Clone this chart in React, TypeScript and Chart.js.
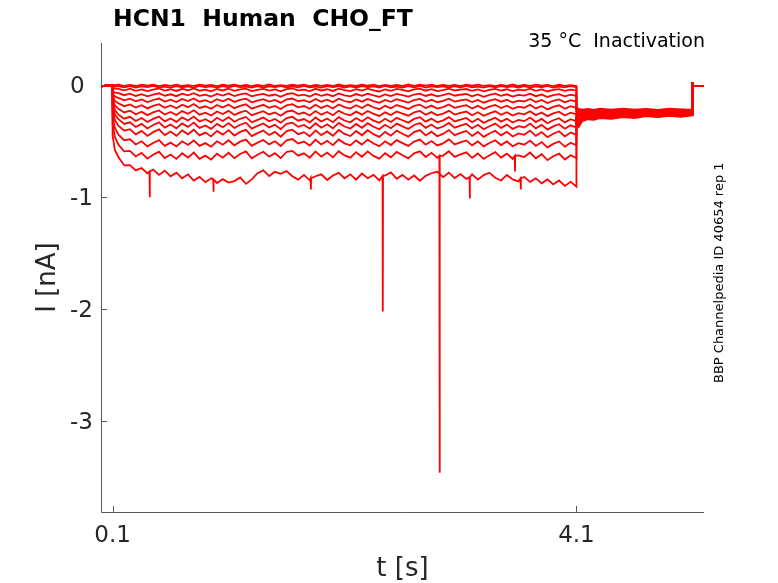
import React, { useEffect, useRef } from 'react';
import { Chart, registerables } from 'chart.js';

Chart.register(...registerables);

// sample times (s)
const PRE_T = [0, 0.02, 0.05, 0.08, 0.1];
const PRE_I = [-0.01, -0.006, 0.002, -0.003, 0];

const STEP_T = [
  0.1, 0.12,
  0.15, 0.2, 0.25, 0.3, 0.35, 0.4, 0.45, 0.5, 0.55, 0.6,
  0.65, 0.7, 0.75, 0.8, 0.85, 0.9, 0.95, 1.0, 1.05, 1.1,
  1.15, 1.2, 1.25, 1.3, 1.35, 1.4, 1.45, 1.5, 1.55, 1.6,
  1.65, 1.7, 1.75, 1.8, 1.85, 1.9, 1.95, 2.0, 2.05, 2.1,
  2.15, 2.2, 2.25, 2.3, 2.35, 2.4, 2.45, 2.5, 2.55, 2.6,
  2.65, 2.7, 2.75, 2.8, 2.85, 2.9, 2.95, 3.0, 3.05, 3.1,
  3.15, 3.2, 3.25, 3.3, 3.35, 3.4, 3.45, 3.5, 3.55, 3.6,
  3.65, 3.7, 3.75, 3.8, 3.85, 3.9, 3.95, 4.0, 4.05, 4.1,
];

const TAIL_T = [4.1, 4.12, 4.15, 4.2, 4.25, 4.3, 4.4, 4.5, 4.6, 4.7, 4.8, 4.9, 5.0, 5.1];

const END_T = [5.1, 5.101, 5.105, 5.2];
const END_I = [0.03, -0.004, -0.007, -0.005];

// current during the conditioning step (nA), one row per sweep
const STEP_I = [
  [-0.005, 0.002,
    0.006, -0.005, 0.004, -0.006, 0.007, -0.003, 0.005, -0.007, 0.003, -0.004,
    0.006, -0.006, 0.002, -0.005, 0.007, -0.003, 0.004, -0.007, 0.005, -0.002,
    0.006, -0.005, 0.003, -0.007, 0.004, -0.004, 0.007, -0.006, 0.002, -0.005,
    0.005, -0.003, 0.006, -0.007, 0.004, -0.005, 0.003, -0.006, 0.007, -0.004,
    0.002, -0.006, 0.005, -0.003, 0.006, -0.007, 0.004, -0.005, 0.003, -0.006,
    0.007, -0.004, 0.005, -0.002, 0.006, -0.006, 0.003, -0.005, 0.004, -0.007,
    0.005, -0.003, 0.006, -0.005, 0.002, -0.007, 0.004, -0.004, 0.007, -0.006,
    0.003, -0.005, 0.006, -0.003, 0.004, -0.007, 0.005, -0.004, 0.002, -0.006],
  [-0.008, -0.012,
    -0.006, -0.018, -0.008, -0.020, -0.010, -0.016, -0.005, -0.019, -0.011, -0.021,
    -0.007, -0.017, -0.009, -0.020, -0.006, -0.015, -0.010, -0.021, -0.008, -0.018,
    -0.005, -0.016, -0.011, -0.020, -0.007, -0.019, -0.009, -0.015, -0.006, -0.020,
    -0.010, -0.018, -0.005, -0.017, -0.011, -0.021, -0.008, -0.016, -0.006, -0.019,
    -0.009, -0.020, -0.007, -0.015, -0.010, -0.019, -0.005, -0.017, -0.011, -0.021,
    -0.008, -0.018, -0.006, -0.020, -0.009, -0.016, -0.010, -0.019, -0.007, -0.021,
    -0.005, -0.017, -0.011, -0.020, -0.008, -0.018, -0.006, -0.016, -0.010, -0.019,
    -0.007, -0.021, -0.009, -0.017, -0.005, -0.020, -0.011, -0.018, -0.008, -0.016],
  [-0.02, -0.03,
    -0.032, -0.045, -0.030, -0.049, -0.036, -0.052, -0.038, -0.028, -0.047, -0.035,
    -0.050, -0.031, -0.044, -0.027, -0.048, -0.039, -0.053, -0.033, -0.046, -0.030,
    -0.049, -0.036, -0.029, -0.051, -0.040, -0.032, -0.047, -0.037, -0.054, -0.034,
    -0.028, -0.045, -0.038, -0.052, -0.031, -0.046, -0.035, -0.050, -0.029, -0.043,
    -0.051, -0.034, -0.047, -0.030, -0.044, -0.055, -0.036, -0.049, -0.032, -0.041,
    -0.053, -0.037, -0.030, -0.048, -0.035, -0.051, -0.042, -0.029, -0.046, -0.038,
    -0.033, -0.050, -0.036, -0.054, -0.040, -0.031, -0.047, -0.035, -0.052, -0.039,
    -0.045, -0.030, -0.049, -0.037, -0.055, -0.041, -0.034, -0.050, -0.038, -0.046],
  [-0.05, -0.065,
    -0.070, -0.088, -0.074, -0.095, -0.079, -0.099, -0.083, -0.071, -0.093, -0.080,
    -0.097, -0.075, -0.090, -0.070, -0.094, -0.084, -0.101, -0.077, -0.092, -0.073,
    -0.096, -0.081, -0.072, -0.099, -0.086, -0.076, -0.093, -0.082, -0.102, -0.078,
    -0.071, -0.091, -0.083, -0.100, -0.075, -0.094, -0.080, -0.098, -0.073, -0.089,
    -0.099, -0.078, -0.094, -0.074, -0.090, -0.103, -0.081, -0.096, -0.076, -0.087,
    -0.101, -0.082, -0.074, -0.095, -0.080, -0.099, -0.088, -0.073, -0.093, -0.084,
    -0.077, -0.098, -0.081, -0.102, -0.086, -0.075, -0.094, -0.080, -0.100, -0.085,
    -0.092, -0.074, -0.097, -0.082, -0.104, -0.087, -0.078, -0.099, -0.083, -0.093],
  [-0.07, -0.10,
    -0.112, -0.134, -0.119, -0.143, -0.126, -0.150, -0.131, -0.118, -0.145, -0.128,
    -0.149, -0.122, -0.140, -0.117, -0.146, -0.133, -0.153, -0.124, -0.143, -0.120,
    -0.148, -0.130, -0.119, -0.151, -0.136, -0.123, -0.145, -0.131, -0.155, -0.126,
    -0.118, -0.142, -0.132, -0.152, -0.122, -0.146, -0.128, -0.150, -0.120, -0.140,
    -0.151, -0.126, -0.146, -0.121, -0.141, -0.156, -0.130, -0.148, -0.124, -0.138,
    -0.154, -0.131, -0.121, -0.147, -0.129, -0.151, -0.139, -0.120, -0.145, -0.134,
    -0.125, -0.150, -0.130, -0.155, -0.137, -0.123, -0.146, -0.129, -0.153, -0.136,
    -0.144, -0.122, -0.149, -0.131, -0.158, -0.138, -0.126, -0.152, -0.133, -0.145],
  [-0.09, -0.14,
    -0.160, -0.186, -0.170, -0.199, -0.178, -0.206, -0.184, -0.168, -0.201, -0.180,
    -0.205, -0.173, -0.195, -0.167, -0.202, -0.187, -0.210, -0.176, -0.198, -0.171,
    -0.204, -0.183, -0.169, -0.208, -0.190, -0.174, -0.201, -0.184, -0.212, -0.178,
    -0.168, -0.197, -0.185, -0.209, -0.173, -0.202, -0.180, -0.207, -0.171, -0.195,
    -0.208, -0.178, -0.202, -0.172, -0.196, -0.213, -0.183, -0.205, -0.176, -0.193,
    -0.211, -0.184, -0.172, -0.203, -0.181, -0.208, -0.194, -0.171, -0.201, -0.188,
    -0.177, -0.207, -0.183, -0.212, -0.191, -0.175, -0.203, -0.182, -0.210, -0.190,
    -0.200, -0.174, -0.206, -0.184, -0.215, -0.192, -0.178, -0.209, -0.186, -0.201],
  [-0.12, -0.18,
    -0.210, -0.242, -0.226, -0.258, -0.235, -0.266, -0.242, -0.224, -0.261, -0.238,
    -0.265, -0.230, -0.254, -0.223, -0.262, -0.245, -0.270, -0.233, -0.257, -0.228,
    -0.264, -0.241, -0.226, -0.268, -0.249, -0.231, -0.260, -0.242, -0.272, -0.235,
    -0.225, -0.256, -0.243, -0.269, -0.230, -0.262, -0.238, -0.267, -0.228, -0.254,
    -0.268, -0.235, -0.262, -0.229, -0.255, -0.273, -0.241, -0.265, -0.233, -0.252,
    -0.271, -0.242, -0.229, -0.263, -0.239, -0.268, -0.253, -0.228, -0.261, -0.247,
    -0.234, -0.267, -0.241, -0.272, -0.250, -0.232, -0.263, -0.240, -0.270, -0.249,
    -0.259, -0.231, -0.266, -0.242, -0.275, -0.251, -0.236, -0.269, -0.244, -0.260],
  [-0.15, -0.22,
    -0.262, -0.298, -0.281, -0.318, -0.292, -0.328, -0.300, -0.279, -0.322, -0.296,
    -0.326, -0.286, -0.314, -0.279, -0.323, -0.303, -0.331, -0.290, -0.318, -0.284,
    -0.325, -0.299, -0.282, -0.330, -0.308, -0.288, -0.321, -0.300, -0.334, -0.292,
    -0.281, -0.316, -0.301, -0.331, -0.287, -0.323, -0.296, -0.329, -0.284, -0.314,
    -0.330, -0.292, -0.323, -0.285, -0.315, -0.335, -0.299, -0.327, -0.290, -0.312,
    -0.333, -0.300, -0.285, -0.324, -0.297, -0.330, -0.313, -0.284, -0.322, -0.306,
    -0.291, -0.329, -0.299, -0.335, -0.310, -0.289, -0.324, -0.298, -0.332, -0.309,
    -0.320, -0.288, -0.328, -0.300, -0.338, -0.312, -0.294, -0.331, -0.303, -0.321],
  [-0.18, -0.26,
    -0.302, -0.345, -0.330, -0.372, -0.344, -0.385, -0.354, -0.331, -0.378, -0.350,
    -0.384, -0.340, -0.371, -0.333, -0.380, -0.358, -0.389, -0.344, -0.374, -0.337,
    -0.381, -0.352, -0.334, -0.386, -0.362, -0.340, -0.376, -0.352, -0.391, -0.344,
    -0.333, -0.370, -0.354, -0.387, -0.339, -0.378, -0.348, -0.384, -0.336, -0.368,
    -0.386, -0.345, -0.379, -0.338, -0.370, -0.392, -0.352, -0.383, -0.342, -0.366,
    -0.390, -0.354, -0.337, -0.380, -0.350, -0.386, -0.368, -0.336, -0.378, -0.360,
    -0.344, -0.385, -0.352, -0.392, -0.365, -0.342, -0.380, -0.351, -0.389, -0.364,
    -0.376, -0.341, -0.384, -0.353, -0.395, -0.367, -0.347, -0.388, -0.357, -0.377],
  [-0.22, -0.31,
    -0.360, -0.405, -0.392, -0.438, -0.407, -0.452, -0.418, -0.393, -0.444, -0.413,
    -0.451, -0.403, -0.437, -0.396, -0.447, -0.422, -0.456, -0.407, -0.440, -0.400,
    -0.448, -0.416, -0.397, -0.454, -0.427, -0.403, -0.443, -0.416, -0.459, -0.408,
    -0.396, -0.436, -0.418, -0.455, -0.402, -0.445, -0.412, -0.451, -0.399, -0.434,
    -0.453, -0.408, -0.446, -0.401, -0.436, -0.460, -0.416, -0.450, -0.405, -0.432,
    -0.458, -0.418, -0.400, -0.447, -0.414, -0.454, -0.434, -0.399, -0.445, -0.425,
    -0.407, -0.452, -0.416, -0.460, -0.430, -0.405, -0.447, -0.415, -0.457, -0.429,
    -0.442, -0.404, -0.451, -0.417, -0.463, -0.432, -0.410, -0.456, -0.421, -0.443],
  [-0.28, -0.38,
    -0.440, -0.490, -0.482, -0.528, -0.500, -0.545, -0.515, -0.490, -0.540, -0.512,
    -0.546, -0.500, -0.532, -0.492, -0.541, -0.516, -0.548, -0.500, -0.530, -0.490,
    -0.536, -0.503, -0.484, -0.540, -0.512, -0.488, -0.527, -0.500, -0.542, -0.491,
    -0.480, -0.520, -0.502, -0.538, -0.486, -0.528, -0.496, -0.534, -0.483, -0.518,
    -0.536, -0.492, -0.529, -0.485, -0.520, -0.543, -0.500, -0.533, -0.489, -0.516,
    -0.541, -0.502, -0.484, -0.530, -0.498, -0.537, -0.518, -0.483, -0.528, -0.509,
    -0.492, -0.536, -0.501, -0.545, -0.515, -0.490, -0.533, -0.501, -0.544, -0.516,
    -0.530, -0.493, -0.541, -0.507, -0.554, -0.523, -0.501, -0.548, -0.513, -0.535],
  [-0.35, -0.46,
    -0.530, -0.590, -0.585, -0.635, -0.603, -0.655, -0.620, -0.592, -0.650, -0.618,
    -0.657, -0.606, -0.645, -0.600, -0.656, -0.628, -0.664, -0.610, -0.646, -0.602,
    -0.650, -0.613, -0.590, -0.652, -0.620, -0.593, -0.637, -0.606, -0.650, -0.595,
    -0.585, -0.628, -0.607, -0.646, -0.590, -0.636, -0.600, -0.643, -0.588, -0.626,
    -0.646, -0.597, -0.638, -0.590, -0.630, -0.655, -0.606, -0.643, -0.595, -0.625,
    -0.652, -0.608, -0.590, -0.640, -0.603, -0.648, -0.627, -0.589, -0.639, -0.617,
    -0.598, -0.648, -0.608, -0.657, -0.625, -0.597, -0.645, -0.610, -0.656, -0.625,
    -0.640, -0.600, -0.652, -0.615, -0.668, -0.633, -0.610, -0.662, -0.624, -0.650],
  [-0.45, -0.58,
    -0.640, -0.715, -0.712, -0.760, -0.738, -0.785, -0.752, -0.800, -0.762, -0.812,
    -0.780, -0.830, -0.795, -0.850, -0.818, -0.865, -0.830, -0.872, -0.838, -0.868,
    -0.855, -0.822, -0.880, -0.840, -0.785, -0.760, -0.810, -0.772, -0.790, -0.765,
    -0.812, -0.842, -0.800, -0.848, -0.812, -0.795, -0.845, -0.805, -0.782, -0.830,
    -0.795, -0.842, -0.788, -0.830, -0.800, -0.848, -0.805, -0.778, -0.835, -0.800,
    -0.842, -0.805, -0.852, -0.808, -0.785, -0.772, -0.820, -0.780, -0.828, -0.792,
    -0.835, -0.795, -0.842, -0.802, -0.780, -0.825, -0.850, -0.800, -0.840, -0.858,
    -0.818, -0.862, -0.830, -0.875, -0.840, -0.885, -0.850, -0.898, -0.862, -0.905],
];

// tail current after the step (nA)
const TAIL_I = [
  [-0.20, -0.21, -0.218, -0.210, -0.219, -0.209, -0.218, -0.208, -0.217, -0.210, -0.219, -0.209, -0.216, -0.218],
  [-0.21, -0.22, -0.226, -0.217, -0.225, -0.215, -0.224, -0.216, -0.226, -0.215, -0.223, -0.225, -0.216, -0.224],
  [-0.22, -0.23, -0.234, -0.223, -0.232, -0.222, -0.231, -0.221, -0.230, -0.232, -0.220, -0.229, -0.231, -0.221],
  [-0.23, -0.24, -0.242, -0.230, -0.239, -0.228, -0.238, -0.227, -0.237, -0.226, -0.236, -0.228, -0.232, -0.229],
  [-0.24, -0.25, -0.250, -0.238, -0.247, -0.236, -0.245, -0.234, -0.243, -0.233, -0.242, -0.232, -0.241, -0.233],
  [-0.25, -0.26, -0.258, -0.246, -0.255, -0.243, -0.252, -0.241, -0.250, -0.239, -0.248, -0.238, -0.247, -0.237],
  [-0.26, -0.27, -0.266, -0.254, -0.262, -0.250, -0.259, -0.247, -0.256, -0.245, -0.254, -0.243, -0.252, -0.242],
  [-0.27, -0.28, -0.274, -0.262, -0.270, -0.257, -0.265, -0.253, -0.262, -0.250, -0.259, -0.248, -0.257, -0.247],
  [-0.28, -0.30, -0.282, -0.270, -0.277, -0.264, -0.272, -0.259, -0.268, -0.255, -0.264, -0.253, -0.262, -0.252],
  [-0.29, -0.31, -0.291, -0.278, -0.285, -0.271, -0.279, -0.265, -0.274, -0.260, -0.269, -0.258, -0.267, -0.256],
  [-0.30, -0.33, -0.300, -0.287, -0.293, -0.278, -0.286, -0.271, -0.280, -0.265, -0.274, -0.263, -0.271, -0.260],
  [-0.31, -0.35, -0.309, -0.295, -0.300, -0.285, -0.292, -0.277, -0.286, -0.270, -0.279, -0.267, -0.276, -0.264],
  [-0.32, -0.37, -0.319, -0.303, -0.308, -0.292, -0.299, -0.283, -0.292, -0.275, -0.284, -0.272, -0.281, -0.269],
];

// brief artefacts: [sweep, t, baseline, peak]
const SPIKES: [number, number, number, number][] = [
  [12, 0.42, -0.77, -1.0],
  [12, 0.97, -0.84, -0.95],
  [12, 1.81, -0.83, -0.93],
  [12, 2.43, -0.81, -2.02],
  [12, 3.18, -0.82, -1.01],
  [12, 3.62, -0.83, -0.93],
  [11, 2.92, -0.63, -3.46],
  [11, 3.57, -0.63, -0.77],
];

const X_TICKS = [0.1, 4.1];
const Y_TICKS = [0, -1, -2, -3];

const FONT = '"DejaVu Sans", sans-serif';
const AXIS_COLOR = '#5a5a5a';
const TEXT_COLOR = '#262626';

const decorations = {
  id: 'matlabAxes',
  beforeDatasetsDraw(chart: any) {
    const { ctx, chartArea: a, scales } = chart;
    ctx.save();
    ctx.strokeStyle = AXIS_COLOR;
    ctx.lineWidth = 1;
    ctx.beginPath();
    ctx.moveTo(a.left + 0.5, a.top);
    ctx.lineTo(a.left + 0.5, a.bottom + 0.5);
    ctx.lineTo(a.right, a.bottom + 0.5);
    for (const v of Y_TICKS) {
      const y = Math.round(scales.y.getPixelForValue(v)) + 0.5;
      ctx.moveTo(a.left, y);
      ctx.lineTo(a.left + 6, y);
    }
    for (const v of X_TICKS) {
      const x = Math.round(scales.x.getPixelForValue(v)) + 0.5;
      ctx.moveTo(x, a.bottom);
      ctx.lineTo(x, a.bottom - 6);
    }
    ctx.stroke();
    ctx.restore();
  },
  afterDraw(chart: any) {
    const { ctx, chartArea: a, scales } = chart;
    ctx.save();
    ctx.fillStyle = TEXT_COLOR;
    ctx.font = `23px ${FONT}`;
    ctx.textAlign = 'left';
    ctx.textBaseline = 'alphabetic';
    for (const v of Y_TICKS) {
      const y = scales.y.getPixelForValue(v);
      ctx.fillText(String(v), 70, y + 8);
    }
    ctx.textAlign = 'center';
    for (const v of X_TICKS) {
      ctx.fillText(String(v), scales.x.getPixelForValue(v), 542);
    }

    ctx.font = `26px ${FONT}`;
    ctx.fillText('t [s]', (a.left + a.right) / 2, 576);
    ctx.save();
    ctx.translate(55, (a.top + a.bottom) / 2);
    ctx.rotate(-Math.PI / 2);
    ctx.fillText('I [nA]', 0, 0);
    ctx.restore();

    ctx.fillStyle = '#000';
    ctx.font = `bold 23.5px ${FONT}`;
    ctx.textAlign = 'left';
    ctx.fillText('HCN1  Human  CHO_FT', 113, 26);

    ctx.font = `19px ${FONT}`;
    ctx.textAlign = 'right';
    ctx.fillText('35 °C  Inactivation', 705, 47);

    ctx.font = `13px ${FONT}`;
    ctx.textAlign = 'left';
    ctx.translate(723, 383);
    ctx.rotate(-Math.PI / 2);
    ctx.fillText('BBP Channelpedia ID 40654 rep 1', 0, 0);
    ctx.restore();
  },
};

function buildSweep(k: number) {
  const pts: { x: number; y: number }[] = [];
  PRE_T.forEach((t, i) => pts.push({ x: t, y: PRE_I[i] }));
  STEP_T.forEach((t, i) => pts.push({ x: t, y: STEP_I[k][i] }));
  TAIL_T.forEach((t, i) => pts.push({ x: t, y: TAIL_I[k][i] }));
  END_T.forEach((t, i) => pts.push({ x: t, y: END_I[i] }));
  SPIKES.filter((s) => s[0] === k).forEach(([, t, base, peak]) => {
    pts.push({ x: t - 0.002, y: base }, { x: t, y: peak }, { x: t + 0.002, y: base });
  });
  pts.sort((p, q) => p.x - q.x);
  return pts;
}

export default function App() {
  const canvasRef = useRef<HTMLCanvasElement>(null);

  useEffect(() => {
    if (!canvasRef.current) return;
    const chart = new Chart(canvasRef.current, {
      type: 'line',
      data: {
        datasets: STEP_I.map((_, k) => ({
          data: buildSweep(k),
          borderColor: '#ff0000',
          borderWidth: 1.8,
          pointRadius: 0,
          tension: 0,
          fill: false,
        })),
      },
      options: {
        responsive: false,
        animation: false,
        events: [],
        layout: { padding: { left: 0, top: 43, right: 74, bottom: 0 } },
        plugins: { legend: { display: false }, tooltip: { enabled: false }, title: { display: false } },
        scales: {
          x: {
            type: 'linear',
            min: 0,
            max: 5.2,
            grid: { display: false },
            border: { display: false },
            ticks: { display: false },
            afterFit: (s: any) => { s.height = 71; },
          },
          y: {
            type: 'linear',
            min: -3.81,
            max: 0.378,
            grid: { display: false },
            border: { display: false },
            ticks: { display: false },
            afterFit: (s: any) => { s.width = 101; },
          },
        },
      },
      plugins: [decorations],
    });
    return () => chart.destroy();
  }, []);

  return (
    <div style={{ position: 'absolute', left: 0, top: 0, width: 778, height: 583, background: '#fff' }}>
      <canvas ref={canvasRef} width={778} height={583} />
    </div>
  );
}
